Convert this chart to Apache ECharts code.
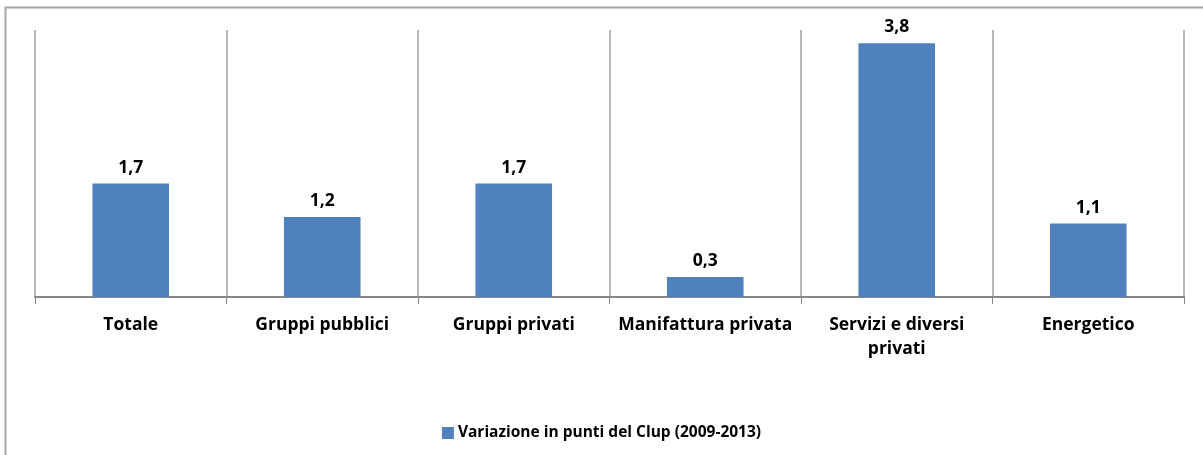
<!DOCTYPE html>
<html>
<head>
<meta charset="utf-8">
<script src="https://cdn.jsdelivr.net/npm/echarts@6/dist/echarts.min.js"></script>
<style>
  html, body { margin: 0; padding: 0; background: #fff; }
  #main { width: 1203px; height: 455px; }
</style>
</head>
<body>
<div id="main"></div>
<script>
// dati
var categorie = ["Totale", "Gruppi pubblici", "Gruppi privati", "Manifattura privata", "Servizi e diversi\nprivati", "Energetico"];
var variazione = [1.7, 1.2, 1.7, 0.3, 3.8, 1.1];
var nomeSerie = "Variazione in punti del Clup (2009-2013)";

var font = "'Open Sans', sans-serif";
var chart = echarts.init(document.getElementById("main"));

chart.setOption({
  animation: false,
  backgroundColor: "#fff",
  graphic: [
    {
      type: "rect",
      shape: { x: 5.5, y: 7.5, width: 1200, height: 450 },
      style: { fill: "none", stroke: "#a6a6a6", lineWidth: 2 }
    }
  ],
  grid: { left: 35, right: 19, top: 30, bottom: 158 },
  legend: {
    bottom: 9,
    left: "center",
    itemWidth: 12,
    itemHeight: 12,
    itemGap: 4,
    icon: "rect",
    textStyle: { fontFamily: font, fontWeight: "bold", fontSize: 15.5, color: "#000", padding: [0, 0, 0, -1] },
    data: [nomeSerie]
  },
  xAxis: {
    type: "category",
    data: categorie,
    axisLine: { lineStyle: { color: "#868686", width: 2 } },
    axisTick: { show: true, length: 7, lineStyle: { color: "#868686" } },
    splitLine: { show: true, lineStyle: { color: "#a0a0a0", width: 1.5 } },
    axisLabel: {
      interval: 0,
      margin: 16,
      color: "#000",
      fontFamily: font,
      fontWeight: "bold",
      fontSize: 17.5,
      lineHeight: 24
    }
  },
  yAxis: {
    type: "value",
    min: 0,
    max: 4,
    show: false,
    splitLine: { show: false }
  },
  series: [
    {
      name: nomeSerie,
      type: "bar",
      data: variazione,
      barWidth: "40%",
      itemStyle: { color: "#4f81bd" },
      label: {
        show: true,
        position: "top",
        distance: 7,
        color: "#000",
        fontFamily: font,
        fontWeight: "bold",
        fontSize: 17.5,
        formatter: function (p) { return p.value.toFixed(1).replace(".", ","); }
      }
    }
  ]
});
</script>
</body>
</html>
